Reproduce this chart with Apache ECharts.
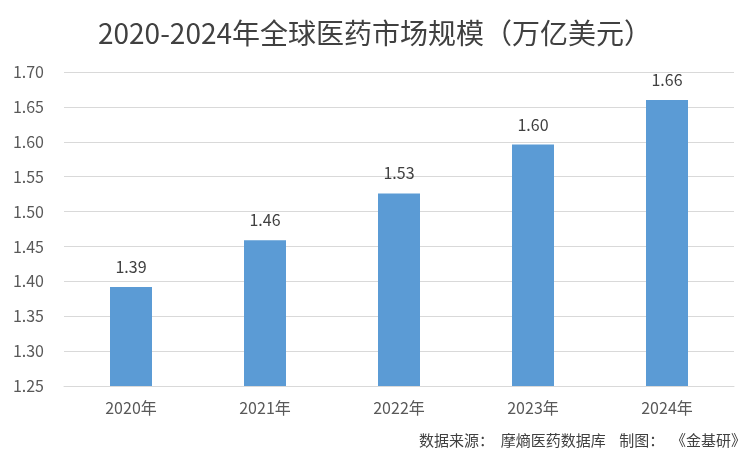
<!DOCTYPE html>
<html><head><meta charset="utf-8">
<script src="https://cdn.jsdelivr.net/npm/echarts@6/dist/echarts.min.js"></script>
<style>html,body{margin:0;padding:0;background:#fff}#c{width:756px;height:452px}</style>
</head><body><div id="c"></div>
<script>
const years = ['2020年', '2021年', '2022年', '2023年', '2024年'];
const marketSize = [1.392, 1.459, 1.526, 1.596, 1.66];
const font = '"Microsoft YaHei", "Noto Sans CJK SC", sans-serif';

const chart = echarts.init(document.getElementById('c'));
chart.setOption({
  backgroundColor: '#fff',
  animation: false,
  title: {
    text: '2020-2024年全球医药市场规模（万亿美元）',
    left: 370, top: 14, textAlign: 'center',
    textStyle: { fontFamily: font, fontSize: 28, fontWeight: 'normal', color: '#404040' },
  },
  graphic: [{
    type: 'text', right: 10, bottom: 4,
    style: { text: '数据来源：  摩熵医药数据库    制图：  《金基研》', font: '15px ' + font, fill: '#404040' },
  }],
  grid: { left: 64, right: 22, top: 72, bottom: 66 },
  xAxis: {
    type: 'category', data: years,
    axisLine: { lineStyle: { color: '#d9d9d9' } },
    axisTick: { show: false },
    axisLabel: { color: '#595959', fontSize: 16, fontFamily: font, margin: 14 },
  },
  yAxis: {
    type: 'value', min: 1.25, max: 1.7, interval: 0.05,
    axisLine: { show: false }, axisTick: { show: false },
    axisLabel: { color: '#595959', fontSize: 16, fontFamily: font, margin: 20, formatter: v => v.toFixed(2) },
    splitLine: { lineStyle: { color: '#d9d9d9' } },
  },
  series: [{
    type: 'bar', data: marketSize, barWidth: 42,
    itemStyle: { color: '#5b9bd5' },
    label: {
      show: true, position: 'top', distance: 12, color: '#404040', fontSize: 16, fontFamily: font,
      formatter: p => (Math.round(p.value * 100) / 100).toFixed(2),
    },
  }],
});
</script></body></html>
